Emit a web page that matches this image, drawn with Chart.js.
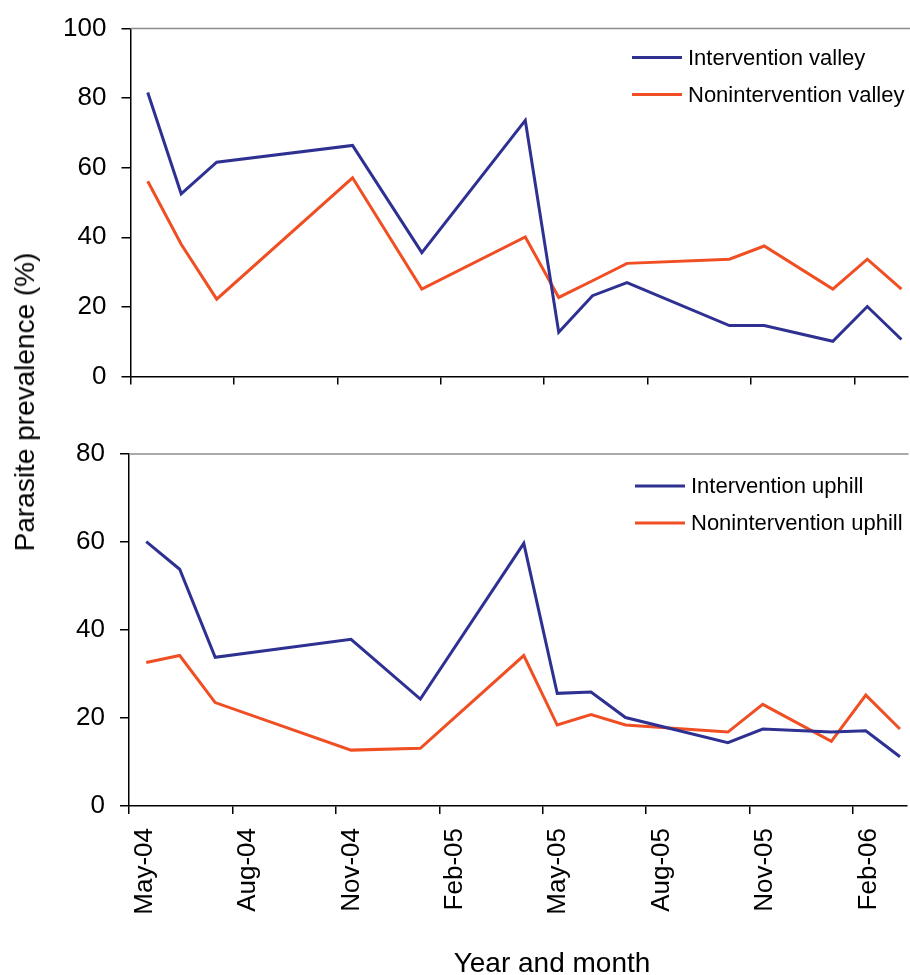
<!DOCTYPE html>
<html>
<head>
<meta charset="utf-8">
<title>Parasite prevalence</title>
<script src="https://cdn.jsdelivr.net/npm/chart.js@4.4.1/dist/chart.umd.min.js"></script>
<style>
  body { margin: 0; background: #fff; }
  #wrap { position: relative; width: 910px; height: 975px; overflow: hidden; }
  .panel { position: absolute; left: 0; width: 910px; }
  #topPanel { top: -2px; height: 409px; }
  #bottomPanel { top: 420px; height: 555px; }
  .axisTitle {
    position: absolute; white-space: nowrap; color: #000;
    font: 28px "Liberation Sans", Arial, sans-serif;
  }
  #yTitle { left: 25px; top: 402px; transform: translate(-50%, -50%) rotate(-90deg); }
  #xTitle { left: 552px; top: 963px; transform: translate(-50%, -50%); }
</style>
</head>
<body>
<div id="wrap">
  <div class="panel" id="topPanel"><canvas id="valleyChart"></canvas></div>
  <div class="panel" id="bottomPanel"><canvas id="uphillChart"></canvas></div>
  <div class="axisTitle" id="yTitle">Parasite prevalence (%)</div>
  <div class="axisTitle" id="xTitle">Year and month</div>
</div>
<script>
// survey dates, in months after 1 May 2004
const surveyMonths = [0.5, 1.47, 2.5, 6.44, 8.45, 11.45, 12.42, 13.4, 14.4, 17.37, 18.38, 20.37, 21.37, 22.36];

// x axis ticks
const tickMonths = [0, 3, 6, 9, 12, 15, 18, 21];
const tickLabels = ['May-04', 'Aug-04', 'Nov-04', 'Feb-05', 'May-05', 'Aug-05', 'Nov-05', 'Feb-06'];

// prevalence (%)
const valleyIntervention = [81.6, 52.5, 61.6, 66.4, 35.6, 73.6, 12.7, 23.2, 27.0, 14.6, 14.6, 10.1, 20.1, 10.6];
const valleyNonintervention = [56.1, 38.0, 22.2, 57.1, 25.1, 40.1, 22.7, 27.5, 32.5, 33.7, 37.5, 25.1, 33.7, 25.1];
const uphillIntervention = [60.1, 53.8, 33.8, 37.9, 24.3, 59.7, 25.6, 25.9, 20.1, 14.4, 17.5, 16.8, 17.1, 11.2];
const uphillNonintervention = [32.6, 34.2, 23.5, 12.7, 13.1, 34.2, 18.4, 20.8, 18.4, 16.8, 23.1, 14.7, 25.2, 17.5];

const xMax = 22.55;
const blue = '#2e3192';
const orange = '#f04e23';
const fontFamily = '"Liberation Sans", Arial, sans-serif';

function points(values) {
    return surveyMonths.map((m, i) => ({ x: m, y: values[i] }));
}

// legend drawn inside the plot, top right
const insideLegend = {
    id: 'insideLegend',
    afterDraw(chart, args, opts) {
        const ctx = chart.ctx;
        const top = chart.chartArea.top;
        ctx.save();
        ctx.font = opts.size + 'px ' + fontFamily;
        ctx.textBaseline = 'middle';
        chart.data.datasets.forEach((ds, i) => {
            const y = top + opts.y + i * opts.gap;
            ctx.strokeStyle = ds.borderColor;
            ctx.lineWidth = 3;
            ctx.beginPath();
            ctx.moveTo(opts.x, y);
            ctx.lineTo(opts.x + 50, y);
            ctx.stroke();
            ctx.fillStyle = '#000';
            ctx.fillText(ds.label, opts.x + 56, y + 1);
        });
        ctx.restore();
    }
};

// grey line along the top of the plot
const topBorder = {
    id: 'topBorder',
    afterDraw(chart) {
        const { left, right, top } = chart.chartArea;
        const ctx = chart.ctx;
        ctx.save();
        ctx.strokeStyle = '#8c8c8c';
        ctx.lineWidth = 1.5;
        ctx.beginPath();
        ctx.moveTo(left, top);
        ctx.lineTo(right + 2, top);
        ctx.stroke();
        ctx.restore();
    }
};

function makePanel(canvasId, labels, series, yMax, cfg) {
    return new Chart(document.getElementById(canvasId), {
        type: 'line',
        data: {
            datasets: [
                { label: labels[0], data: points(series[0]), borderColor: blue, borderWidth: 3, pointRadius: 0, tension: 0 },
                { label: labels[1], data: points(series[1]), borderColor: orange, borderWidth: 3, pointRadius: 0, tension: 0 }
            ]
        },
        options: {
            responsive: true,
            maintainAspectRatio: false,
            animation: false,
            layout: { padding: { top: cfg.padTop, right: cfg.padRight, bottom: 0, left: 0 } },
            plugins: {
                legend: { display: false },
                tooltip: { enabled: false },
                insideLegend: cfg.legend
            },
            scales: {
                x: {
                    type: 'linear',
                    min: 0,
                    max: xMax,
                    afterBuildTicks: axis => { axis.ticks = tickMonths.map(v => ({ value: v })); },
                    afterFit: axis => { axis.height = cfg.xHeight; },
                    grid: { drawOnChartArea: false, drawTicks: true, tickLength: 8, color: '#000', lineWidth: 1.5 },
                    border: { color: '#000', width: 1.5 },
                    ticks: {
                        display: cfg.showX,
                        autoSkip: false,
                        minRotation: 90,
                        maxRotation: 90,
                        labelOffset: 15.5,
                        padding: 14,
                        color: '#000',
                        font: { family: fontFamily, size: 26 },
                        callback: v => tickLabels[tickMonths.indexOf(v)]
                    }
                },
                y: {
                    min: 0,
                    max: yMax,
                    afterFit: axis => { axis.width = cfg.yWidth; },
                    grid: { drawOnChartArea: false, drawTicks: true, tickLength: 9, color: '#000', lineWidth: 1.5 },
                    border: { color: '#000', width: 1.5 },
                    ticks: { stepSize: 20, padding: 15, color: '#000', font: { family: fontFamily, size: 26 } }
                }
            }
        },
        plugins: [topBorder, insideLegend]
    });
}

makePanel('valleyChart', ['Intervention valley', 'Nonintervention valley'],
    [valleyIntervention, valleyNonintervention], 100,
    { padTop: 26, padRight: 2, xHeight: 22, yWidth: 130.5, showX: false,
      legend: { x: 632, y: 29, gap: 37, size: 22 } });

makePanel('uphillChart', ['Intervention uphill', 'Nonintervention uphill'],
    [uphillIntervention, uphillNonintervention], 80,
    { padTop: 34, padRight: 3.5, xHeight: 169, yWidth: 129, showX: true,
      legend: { x: 635, y: 32, gap: 37, size: 22 } });
</script>
</body>
</html>
